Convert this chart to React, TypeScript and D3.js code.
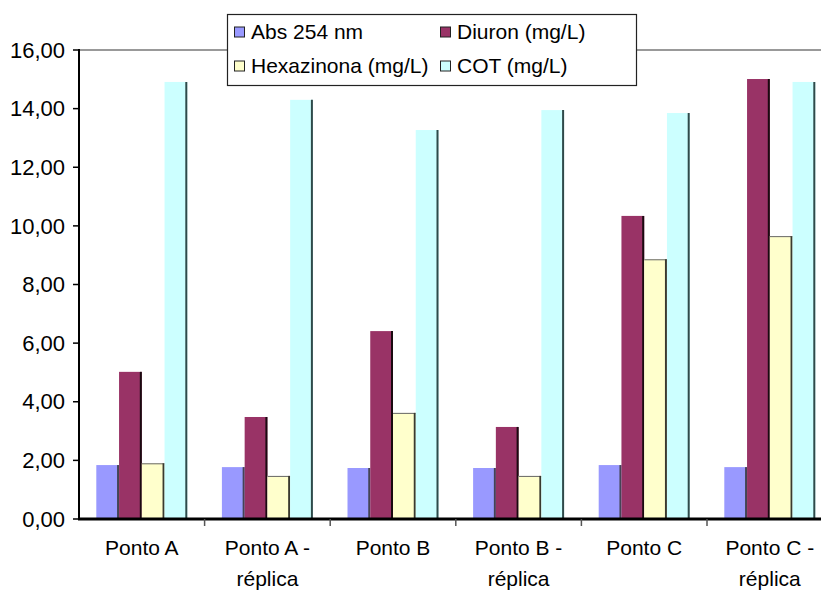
import React from "react";
import * as d3 from "d3";

const categories = ["Ponto A", "Ponto A - réplica", "Ponto B", "Ponto B - réplica", "Ponto C", "Ponto C - réplica"];
const categoryLines = [["Ponto A"], ["Ponto A -", "réplica"], ["Ponto B"], ["Ponto B -", "réplica"], ["Ponto C"], ["Ponto C -", "réplica"]];
const seriesNames = ["Abs 254 nm", "Diuron (mg/L)", "Hexazinona (mg/L)", "COT (mg/L)"];
const absValues = [1.84, 1.77, 1.74, 1.74, 1.84, 1.77];
const diuronValues = [5.02, 3.48, 6.41, 3.14, 10.34, 15.01];
const hexaValues = [1.9, 1.47, 3.62, 1.47, 8.86, 9.65];
const cotValues = [14.91, 14.3, 13.27, 13.95, 13.85, 14.91];
const yTicks = [0, 2, 4, 6, 8, 10, 12, 14, 16];

const seriesValues = [absValues, diuronValues, hexaValues, cotValues];
const fills = ["#9999FF", "#993366", "#FFFFCC", "#CCFFFF"];
const edges = ["#444455", "#1a0a10", "#3a3a30", "#2f4a4a"];

const W = 821;
const H = 590;
const left = 79;
const catW = 125.6;
const top = 50;
const bottom = 519;
const FONT = "'Liberation Sans', Arial, sans-serif";

export default function App() {
  const x = d3.scaleBand<string>().domain(categories).range([left, left + catW * categories.length]).padding(0);
  const inner = d3.scaleBand<string>().domain(seriesNames).range([17.3, catW - 17.3]).padding(0);
  const y = d3.scaleLinear().domain([0, 16]).range([bottom, top]);
  const fmt = (v: number) => d3.format(".2f")(v).replace(".", ",");
  const bw = inner.bandwidth();

  return (
    <svg width={W} height={H} style={{ position: "absolute", left: 0, top: 0, background: "#fff" }} fontFamily={FONT}>
      <rect x={0} y={0} width={W} height={H} fill="#fff" />
      {/* top gridline */}
      <line x1={left} x2={W} y1={y(16)} y2={y(16)} stroke="#999" strokeWidth={2} />
      {/* bars */}
      {categories.map((c, i) => (
        <g key={c}>
          {seriesNames.map((s, k) => {
            const v = seriesValues[k][i];
            const bx = (x(c) as number) + (inner(s) as number);
            const by = y(v);
            const h = y(0) - by;
            return (
              <g key={s}>
                <rect x={bx} y={by} width={bw} height={h} fill={fills[k]} />
                {k === 2 && <line x1={bx} x2={bx + bw} y1={by + 0.5} y2={by + 0.5} stroke="#666" strokeWidth={1} />}
                <line x1={bx + bw - 1} x2={bx + bw - 1} y1={by} y2={y(0)} stroke={edges[k]} strokeWidth={2} />
              </g>
            );
          })}
        </g>
      ))}
      {/* y axis */}
      <line x1={left} x2={left} y1={top - 1} y2={bottom} stroke="#000" strokeWidth={2} />
      {yTicks.map((t) => (
        <g key={t}>
          <line x1={left - 6} x2={left} y1={y(t)} y2={y(t)} stroke="#000" strokeWidth={1.5} />
          <text x={left - 14} y={y(t)} dy="0.35em" textAnchor="end" fontSize={22} fill="#000">
            {fmt(t)}
          </text>
        </g>
      ))}
      {/* x axis */}
      <line x1={left - 1} x2={W} y1={bottom} y2={bottom} stroke="#000" strokeWidth={3} />
      {categories.slice(1).map((c) => (
        <line key={c} x1={x(c) as number} x2={x(c) as number} y1={bottom} y2={bottom + 7} stroke="#555" strokeWidth={1.5} />
      ))}
      {categories.map((c, i) => (
        <text key={c} x={(x(c) as number) + catW / 2} y={555} textAnchor="middle" fontSize={21} fill="#000">
          {categoryLines[i].map((ln, j) => (
            <tspan key={j} x={(x(c) as number) + catW / 2} dy={j === 0 ? 0 : 31}>
              {ln}
            </tspan>
          ))}
        </text>
      ))}
      {/* legend */}
      <rect x={227.5} y={14.5} width={409} height={71} fill="#fff" stroke="#222" strokeWidth={1.2} />
      {seriesNames.map((s, k) => {
        const col = k % 2;
        const row = Math.floor(k / 2);
        const sx = col === 0 ? 234 : 440;
        const cy = row === 0 ? 32 : 66;
        return (
          <g key={s}>
            <rect x={sx + 0.5} y={cy - 5} width={10} height={10} fill={fills[k]} stroke="#222" strokeWidth={1} />
            <text x={sx + 17} y={cy} dy="0.35em" fontSize={21} fill="#000">
              {s}
            </text>
          </g>
        );
      })}
    </svg>
  );
}
